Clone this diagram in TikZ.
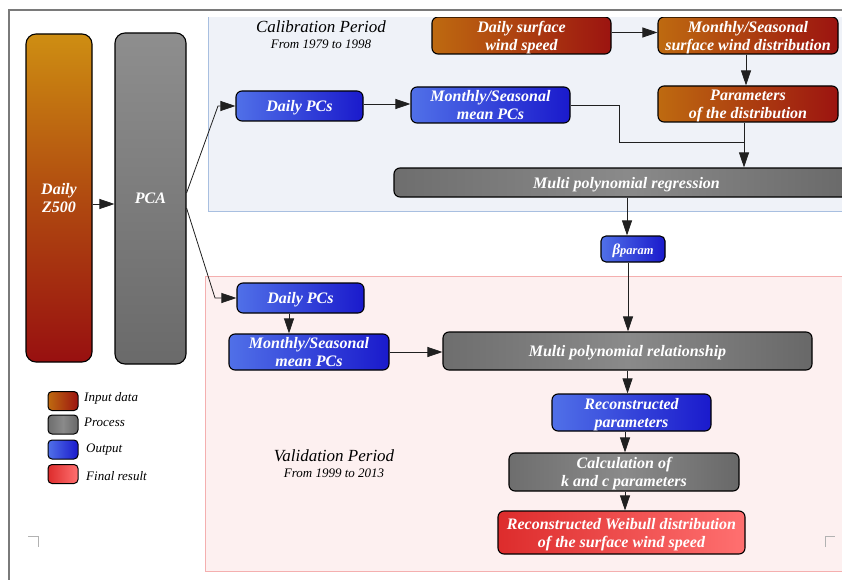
\documentclass[tikz,border=0pt]{standalone}
\usepackage{fontspec}
\setmainfont{Liberation Serif}
\usetikzlibrary{arrows.meta}
\definecolor{inA}{HTML}{BE6A10}
\definecolor{inB}{HTML}{9C1410}
\definecolor{zA}{HTML}{CE8E12}
\definecolor{zM}{HTML}{B04A10}
\definecolor{zB}{HTML}{981010}
\definecolor{prA}{HTML}{6E6E6E}
\definecolor{prM}{HTML}{8A8A8A}
\definecolor{prB}{HTML}{686868}
\definecolor{pcA}{HTML}{8E8E8E}
\definecolor{pcB}{HTML}{6A6A6A}
\definecolor{ouA}{HTML}{5070E8}
\definecolor{ouB}{HTML}{1A1ACC}
\definecolor{fiA}{HTML}{DD2C2C}
\definecolor{fiB}{HTML}{FF7070}
\definecolor{calfill}{HTML}{EFF2F8}
\definecolor{calline}{HTML}{A8BFE0}
\definecolor{valfill}{HTML}{FDF0F0}
\definecolor{valline}{HTML}{F4AFAF}
\definecolor{framecol}{HTML}{7A7A7A}
\definecolor{conn}{HTML}{202020}
\tikzset{
  box/.style={draw=black, line width=1.1pt, rounded corners=6pt, inner sep=0pt, align=center, text=white,
    text depth=0pt, font=\bfseries\itshape\fontsize{16}{18}\selectfont},
  inbox/.style={box, left color=inA, right color=inB},
  prbox/.style={box, left color=prA, right color=prB, middle color=prM},
  oubox/.style={box, left color=ouA, right color=ouB},
  fibox/.style={box, left color=fiA, right color=fiB},
  swatch/.style={draw=black, line width=1pt, rounded corners=4pt, minimum width=30pt, minimum height=19pt, inner sep=0pt},
  legtext/.style={anchor=west, inner sep=0pt, font=\itshape\fontsize{13}{15}\selectfont},
  arr/.style={draw=conn, line width=0.8pt, -{Triangle[length=15pt,width=10pt]}},
  plain/.style={draw=conn, line width=0.8pt},
  ttl/.style={inner sep=0pt, font=\itshape\fontsize{17}{19}\selectfont},
  subttl/.style={inner sep=0pt, font=\itshape\fontsize{13}{15}\selectfont}
}
\begin{document}
\begin{tikzpicture}[x=1pt,y=-1pt]
\useasboundingbox (0,0) rectangle (842,580);
\fill[white] (0,0) rectangle (842,580);
\clip (0,0) rectangle (842,580);
% page frame
\draw[framecol, line width=1.5pt] (9,580) -- (9,10) -- (850,10);
\begin{scope}
\clip (0,18) rectangle (842,580);
% period boxes
\draw[fill=calfill, draw=calline, line width=1pt] (208,5) rectangle (900,211);
\draw[fill=valfill, draw=valline, line width=1pt] (205,276) rectangle (900,571);
\node[ttl] (calt) at (321,27) {Calibration Period};
\node[subttl] (cals) at (321,44) {From 1979 to 1998};
\node[ttl] (valt) at (334,456) {Validation Period};
\node[subttl] (vals) at (334,473) {From 1999 to 2013};
% corner marks
\draw[gray!60, line width=0.8pt] (28,536) -- (38,536) -- (38,547);
\draw[gray!60, line width=0.8pt] (825,547) -- (825,536) -- (835,536);
% nodes
\node[box, rounded corners=10pt, top color=zA, bottom color=zB, middle color=zM, minimum width=66pt, minimum height=328pt] (z500) at (59,198) {Daily\\Z500};
\node[box, rounded corners=10pt, top color=pcA, bottom color=pcB, minimum width=71pt, minimum height=331pt] (pca) at (150.5,198.5) {PCA};
\node[oubox, minimum width=127pt, minimum height=30pt] (dpc1) at (299.5,106) {Daily PCs};
\node[oubox, minimum width=159pt, minimum height=36pt] (mpc1) at (490.5,105) {Monthly/Seasonal\\mean PCs};
\node[inbox, minimum width=179pt, minimum height=37pt] (dsw) at (521.5,35.5) {Daily surface\\wind speed};
\node[inbox, minimum width=180pt, minimum height=37pt] (msd) at (748,35.5) {Monthly/Seasonal\\surface wind distribution};
\node[inbox, minimum width=180pt, minimum height=36pt] (par) at (748,104) {Parameters\\of the distribution};
\node[prbox, minimum width=465pt, minimum height=29pt] (mpr) at (626.5,182.5) {Multi polynomial regression};
\node[oubox, rounded corners=5pt, minimum width=64pt, minimum height=26pt] (beta) at (633,249) {\fontsize{15}{15}\selectfont β\fontsize{12.5}{15}\selectfont param};
\node[oubox, minimum width=127pt, minimum height=30pt] (dpc2) at (300.5,298) {Daily PCs};
\node[oubox, minimum width=160pt, minimum height=36pt] (mpc2) at (309,352) {Monthly/Seasonal\\mean PCs};
\node[prbox, minimum width=369pt, minimum height=38pt] (mrel) at (627.5,351) {Multi polynomial relationship};
\node[oubox, minimum width=159pt, minimum height=37pt] (rec) at (631.5,412.5) {Reconstructed\\parameters};
\node[prbox, minimum width=230pt, minimum height=38pt] (calc) at (624,472) {Calculation of\\k and c parameters};
\node[fibox, minimum width=247pt, minimum height=43pt] (weib) at (621.5,532.5) {Reconstructed Weibull distribution\\of the surface wind speed};
% legend
\node[swatch, left color=inA, right color=inB] (l1) at (63,401) {};
\node[swatch, left color=prA, right color=prB, middle color=prM] (l2) at (63,424.5) {};
\node[swatch, left color=ouA, right color=ouB] (l3) at (63,449.5) {};
\node[swatch, left color=fiA, right color=fiB] (l4) at (63,474) {};
\node[legtext] (t1) at (84,398) {Input data};
\node[legtext] (t2) at (84,422) {Process};
\node[legtext] (t3) at (86,450) {Output};
\node[legtext] (t4) at (86,476) {Final result};
% connectors
\draw[arr] ([yshift=-6pt]z500.east) -- ([yshift=-6pt]z500.east -| pca.west);
\draw[arr] ([yshift=5.5pt]pca.east) -- (218,106) -- (dpc1.west);
\draw[arr] ([yshift=-9.5pt]pca.east) -- (215,298) -- (dpc2.west);
\draw[arr] ([yshift=2pt]dpc1.east) -- ([yshift=2pt]dpc1.east -| mpc1.west);
\draw[arr] ([yshift=3pt]dsw.east) -- ([yshift=3pt]dsw.east -| msd.west);
\draw[arr] ([xshift=-2pt]msd.south) -- ([xshift=-2pt]par.north);
\draw[arr] ([xshift=-4pt]par.south) -- ([xshift=-4pt]par.south |- mpr.north);
\coordinate (j) at (744,142);
\draw[plain] (mpc1.east) -| (619,142) -- (j);
\draw[arr] ([xshift=-6pt]beta.north |- mpr.south) -- ([xshift=-6pt]beta.north);
\draw[arr] ([xshift=-5pt]beta.south) -- ([xshift=-5pt]beta.south |- mrel.north);
\draw[arr] (mpc2.east) -- (mpc2.east -| mrel.west);
\draw[arr] ([xshift=-11.5pt]dpc2.south) -- ([xshift=-11.5pt]dpc2.south |- mpc2.north);
\draw[arr] (mrel.south) -- (mrel.south |- rec.north);
\draw[arr] ([xshift=-6.5pt]rec.south) -- ([xshift=-6.5pt]rec.south |- calc.north);
\draw[arr] ([xshift=1pt]calc.south) -- ([xshift=1pt]calc.south |- weib.north);
\end{scope}
\end{tikzpicture}
\end{document}
